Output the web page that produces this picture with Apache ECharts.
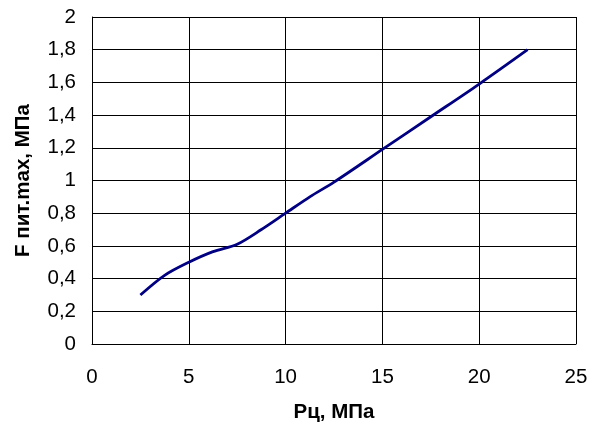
<!DOCTYPE html>
<html>
<head>
<meta charset="utf-8">
<script src="https://cdn.jsdelivr.net/npm/echarts@6/dist/echarts.min.js"></script>
<style>
html,body{margin:0;padding:0;background:#fff;}
#c{width:595px;height:428px;}
</style>
</head>
<body>
<div id="c"></div>
<script>
const xValues = [2.5, 3.75, 5, 6.25, 7.5, 8.75, 10, 11.25, 12.5, 15, 17.5, 20, 22.5];
const yValues = [0.3, 0.42, 0.5, 0.565, 0.61, 0.7, 0.8, 0.9, 0.99, 1.19, 1.39, 1.59, 1.8];
const xAxisTitle = 'Рц, МПа';
const yAxisTitle = 'F пит.max, МПа';

const chart = echarts.init(document.getElementById('c'), null, {renderer: 'canvas'});
const fontFamily = '"Liberation Sans", Arial, sans-serif';
chart.setOption({
  animation: false,
  backgroundColor: '#fff',
  grid: {left: 92, top: 17, right: 19, bottom: 82, containLabel: false},
  xAxis: {
    type: 'value', min: 0, max: 25, interval: 5,
    name: xAxisTitle, nameLocation: 'middle', nameGap: 58,
    nameTextStyle: {fontFamily, fontSize: 20.5, fontWeight: 'bold', color: '#000'},
    axisLine: {show: true, lineStyle: {color: '#000', width: 1}},
    axisTick: {show: false},
    axisLabel: {fontFamily, fontSize: 20.5, color: '#000', margin: 23},
    splitLine: {show: true, lineStyle: {color: '#000', width: 1}}
  },
  yAxis: {
    type: 'value', min: 0, max: 2, interval: 0.2,
    name: yAxisTitle, nameLocation: 'middle', nameGap: 58, nameRotate: 90,
    nameTextStyle: {fontFamily, fontSize: 20.5, fontWeight: 'bold', color: '#000'},
    axisLine: {show: true, lineStyle: {color: '#000', width: 1}},
    axisTick: {show: true, inside: true, length: 5, lineStyle: {color: '#000'}},
    axisLabel: {fontFamily, fontSize: 20.5, color: '#000', margin: 16,
      formatter: v => String(Math.round(v * 10) / 10).replace('.', ',')},
    splitLine: {show: true, lineStyle: {color: '#000', width: 1}}
  },
  series: [{
    type: 'line',
    data: xValues.map((x, i) => [x, yValues[i]]),
    smooth: 0.3,
    showSymbol: false,
    lineStyle: {color: '#000080', width: 2.8},
    itemStyle: {color: '#000080'}
  }]
});
</script>
</body>
</html>
